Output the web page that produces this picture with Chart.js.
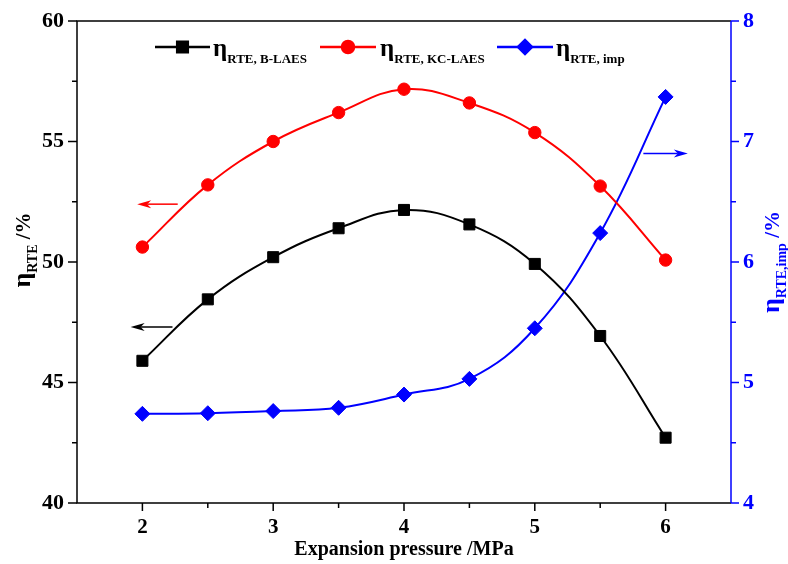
<!DOCTYPE html>
<html>
<head>
<meta charset="utf-8">
<script src="https://cdn.jsdelivr.net/npm/chart.js@4.4.1/dist/chart.umd.min.js"></script>
<style>
  html, body { margin: 0; padding: 0; background: #fff; }
  #wrap { width: 788px; height: 564px; }
</style>
</head>
<body>
<div id="wrap"><canvas id="plot" width="788" height="564"></canvas></div>
<script>
// expansion pressure (MPa)
const pressure = [2, 2.5, 3, 3.5, 4, 4.5, 5, 5.5, 6];
// round trip efficiency, %
const etaBLAES = [45.9, 48.45, 50.2, 51.4, 52.16, 51.56, 49.92, 46.93, 42.71];
const etaKCLAES = [50.62, 53.2, 55.0, 56.2, 57.17, 56.6, 55.37, 53.15, 50.08];
// improvement, % (right axis)
const etaImp = [4.74, 4.745, 4.763, 4.79, 4.9, 5.03, 5.45, 6.24, 7.37];

const serif = '"Liberation Serif", "Times New Roman", serif';

function pts(ys) {
    return pressure.map((x, i) => ({x: x, y: ys[i]}));
}

// draws "main" followed by a subscript, returns the width used
function subText(ctx, x, y, main, sub, mainPx, subPx, tail, tailPx) {
    ctx.textBaseline = 'alphabetic';
    ctx.textAlign = 'left';
    ctx.font = 'bold ' + mainPx + 'px ' + serif;
    ctx.fillText(main, x, y);
    let w = ctx.measureText(main).width;
    ctx.font = 'bold ' + subPx + 'px ' + serif;
    ctx.fillText(sub, x + w, y + subPx * 0.5);
    w += ctx.measureText(sub).width;
    if (tail) {
        ctx.font = 'bold ' + tailPx + 'px ' + serif;
        ctx.fillText(tail, x + w, y);
        w += ctx.measureText(tail).width;
    }
    return w;
}

function measureSub(ctx, main, sub, mainPx, subPx, tail, tailPx) {
    ctx.font = 'bold ' + mainPx + 'px ' + serif;
    let w = ctx.measureText(main).width;
    ctx.font = 'bold ' + subPx + 'px ' + serif;
    w += ctx.measureText(sub).width;
    if (tail) {
        ctx.font = 'bold ' + tailPx + 'px ' + serif;
        w += ctx.measureText(tail).width;
    }
    return w;
}

function arrow(ctx, x1, y1, x2, y2, color) {
    ctx.save();
    ctx.strokeStyle = color;
    ctx.fillStyle = color;
    ctx.lineWidth = 1.5;
    const dir = Math.sign(x2 - x1);
    ctx.beginPath();
    ctx.moveTo(x1, y1);
    ctx.lineTo(x2 - dir * 10, y2);
    ctx.stroke();
    ctx.beginPath();
    ctx.moveTo(x2, y2);
    ctx.lineTo(x2 - dir * 14, y2 - 4);
    ctx.lineTo(x2 - dir * 10, y2);
    ctx.lineTo(x2 - dir * 14, y2 + 4);
    ctx.closePath();
    ctx.fill();
    ctx.restore();
}

const extras = {
    id: 'extras',
    afterDraw(chart) {
        const ctx = chart.ctx;
        const a = chart.chartArea;
        const sx = chart.scales.x, sy = chart.scales.y, sy2 = chart.scales.y2;
        ctx.save();

        // frame
        ctx.lineWidth = 1.5;
        ctx.strokeStyle = '#000';
        ctx.beginPath();
        ctx.moveTo(a.right, a.top);
        ctx.lineTo(a.left, a.top);
        ctx.lineTo(a.left, a.bottom);
        ctx.lineTo(a.right, a.bottom);
        ctx.stroke();
        ctx.strokeStyle = '#0000ff';
        ctx.beginPath();
        ctx.moveTo(a.right, a.top);
        ctx.lineTo(a.right, a.bottom);
        ctx.stroke();

        // tick marks, major ones have labels
        ctx.lineWidth = 1.5;
        ctx.strokeStyle = '#000';
        sx.ticks.forEach(t => {
            if (t.value <= sx.min || t.value >= sx.max) return;
            const px = sx.getPixelForValue(t.value);
            const len = Number.isInteger(t.value) ? 8 : 5;
            ctx.beginPath();
            ctx.moveTo(px, a.bottom);
            ctx.lineTo(px, a.bottom + len);
            ctx.stroke();
        });
        sy.ticks.forEach(t => {
            const py = sy.getPixelForValue(t.value);
            const len = t.value % 5 === 0 ? 9 : 5;
            ctx.beginPath();
            ctx.moveTo(a.left, py);
            ctx.lineTo(a.left - len, py);
            ctx.stroke();
        });
        ctx.strokeStyle = '#0000ff';
        sy2.ticks.forEach(t => {
            const py = sy2.getPixelForValue(t.value);
            const len = Number.isInteger(t.value) ? 8 : 5;
            ctx.beginPath();
            ctx.moveTo(a.right, py);
            ctx.lineTo(a.right + len, py);
            ctx.stroke();
        });

        // arrows pointing to the axis of each curve
        arrow(ctx, sx.getPixelForValue(2.27), sy.getPixelForValue(52.4),
            sx.getPixelForValue(1.96), sy.getPixelForValue(52.4), '#ff0000');
        arrow(ctx, sx.getPixelForValue(2.23), sy.getPixelForValue(47.3),
            sx.getPixelForValue(1.91), sy.getPixelForValue(47.3), '#000');
        arrow(ctx, sx.getPixelForValue(5.83), sy2.getPixelForValue(6.9),
            sx.getPixelForValue(6.17), sy2.getPixelForValue(6.9), '#0000ff');

        // legend
        const legend = [
            {x0: 155, x1: 210, style: 'rect', color: '#000', sub: 'RTE, B-LAES', tx: 213},
            {x0: 320, x1: 376, style: 'circle', color: '#ff0000', sub: 'RTE, KC-LAES', tx: 380},
            {x0: 497, x1: 553, style: 'rectRot', color: '#0000ff', sub: 'RTE, imp', tx: 556}
        ];
        const ly = 47;
        legend.forEach(l => {
            ctx.strokeStyle = l.color;
            ctx.fillStyle = l.color;
            ctx.lineWidth = 2.5;
            ctx.beginPath();
            ctx.moveTo(l.x0, ly);
            ctx.lineTo(l.x1, ly);
            ctx.stroke();
            const r = l.style === 'rect' ? 7.5 : (l.style === 'circle' ? 6 : 7);
            Chart.helpers.drawPoint(ctx, {pointStyle: l.style, radius: r, borderWidth: 1, rotation: 0}, (l.x0 + l.x1) / 2, ly);
            ctx.fillStyle = '#000';
            subText(ctx, l.tx, 56, 'η', l.sub, 25, 13);
        });

        // y axis titles
        ctx.fillStyle = '#000';
        ctx.save();
        ctx.translate(30, 250);
        ctx.rotate(-Math.PI / 2);
        let w = measureSub(ctx, 'η', 'RTE', 26, 14, ' /%', 21);
        subText(ctx, -w / 2, 0, 'η', 'RTE', 26, 14, ' /%', 21);
        ctx.restore();

        ctx.fillStyle = '#0000ff';
        ctx.save();
        ctx.translate(779, 262);
        ctx.rotate(-Math.PI / 2);
        w = measureSub(ctx, 'η', 'RTE,imp', 26, 14, ' /%', 21);
        subText(ctx, -w / 2, 0, 'η', 'RTE,imp', 26, 14, ' /%', 21);
        ctx.restore();

        // x axis title
        ctx.fillStyle = '#000';
        ctx.font = 'bold 20px ' + serif;
        ctx.textAlign = 'center';
        ctx.textBaseline = 'middle';
        ctx.fillText('Expansion pressure /MPa', (a.left + a.right) / 2, 550);

        ctx.restore();
    }
};

const lineSet = (label, ys, color, style, r, axis) => ({
    label: label,
    data: pts(ys),
    yAxisID: axis,
    borderColor: color,
    backgroundColor: color,
    borderWidth: 2,
    pointStyle: style,
    pointRadius: r,
    pointHoverRadius: r,
    pointBorderWidth: 1,
    tension: 0.4,
    fill: false
});

// fixed axis sizes so the plot area sits where the reference has it
function fixSize(w, h) {
    return s => {
        if (w) s.width = w;
        if (h) s.height = h;
        s.paddingTop = 0;
        s.paddingBottom = 0;
        s.paddingLeft = 0;
        s.paddingRight = 0;
    };
}

new Chart(document.getElementById('plot'), {
    type: 'line',
    data: {
        datasets: [
            lineSet('B-LAES', etaBLAES, '#000000', 'rect', 7.8, 'y'),
            lineSet('KC-LAES', etaKCLAES, '#ff0000', 'circle', 6.2, 'y'),
            lineSet('imp', etaImp, '#0000ff', 'rectRot', 7.5, 'y2')
        ]
    },
    options: {
        responsive: false,
        animation: false,
        layout: {padding: {top: 21, left: 0, right: 0, bottom: 0}},
        plugins: {legend: {display: false}, tooltip: {enabled: false}},
        scales: {
            x: {
                type: 'linear',
                min: 1.5,
                max: 6.5,
                grid: {display: false, drawTicks: false},
                border: {display: false},
                ticks: {
                    stepSize: 0.5,
                    padding: 12,
                    color: '#000',
                    font: {family: serif, size: 21, weight: 'bold'},
                    maxRotation: 0,
                    autoSkip: false,
                    callback: v => (Number.isInteger(v) && v > 1.5 && v < 6.5) ? v : ''
                },
                afterFit: fixSize(0, 61)
            },
            y: {
                position: 'left',
                min: 40,
                max: 60,
                grid: {display: false, drawTicks: false},
                border: {display: false},
                ticks: {
                    stepSize: 2.5,
                    padding: 13,
                    color: '#000',
                    font: {family: serif, size: 22, weight: 'bold'},
                    autoSkip: false,
                    callback: v => v % 5 === 0 ? v : ''
                },
                afterFit: fixSize(77, 0)
            },
            y2: {
                position: 'right',
                min: 4,
                max: 8,
                grid: {display: false, drawTicks: false},
                border: {display: false},
                ticks: {
                    stepSize: 0.5,
                    padding: 12,
                    color: '#0000ff',
                    font: {family: serif, size: 22, weight: 'bold'},
                    autoSkip: false,
                    callback: v => Number.isInteger(v) ? v : ''
                },
                afterFit: fixSize(57, 0)
            }
        }
    },
    plugins: [extras]
});
</script>
</body>
</html>
